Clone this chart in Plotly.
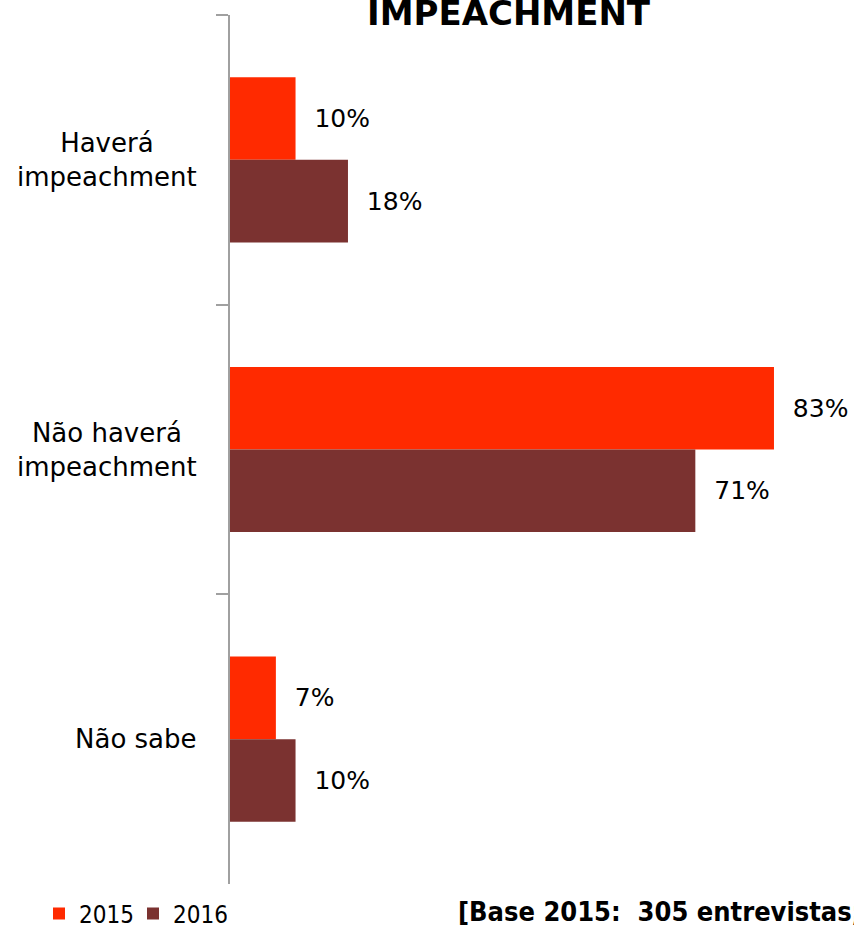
import plotly.graph_objects as go

# Data
categories = ["Haverá<br>impeachment", "Não haverá<br>impeachment", "Não sabe"]
years = ["2015", "2016"]
values_2015 = [10, 83, 7]
values_2016 = [18, 71, 10]
colors = {"2015": "#FF2A00", "2016": "#7B3230"}

W, H = 854, 928
PL, PT, PW, PH = 230, 15, 623, 869  # plot area in px
narrow = "DejaVu Sans Condensed, Liberation Sans, sans-serif"

fig = go.Figure()

for year, vals in zip(years, [values_2015, values_2016]):
    fig.add_trace(go.Bar(
        y=categories, x=vals, name=year, orientation="h",
        marker=dict(color=colors[year], line=dict(width=0)),
        text=["\u00a0\u00a0" + f"{v}%" for v in vals],
        textposition="outside", cliponaxis=False,
        textfont=dict(family="DejaVu Sans", size=25, color="black"),
    ))

fig.update_layout(
    width=W, height=H,
    margin=dict(l=PL, r=W - PL - PW, t=PT, b=H - PT - PH, autoexpand=False),
    barmode="group", bargap=0.43, bargroupgap=0,
    plot_bgcolor="white", paper_bgcolor="white",
    font=dict(family="DejaVu Sans", size=24, color="black"),
    legend=dict(orientation="h", xref="container", yref="container",
                x=39 / W, y=(H - 914) / H, xanchor="left", yanchor="middle",
                font=dict(family=narrow, size=24),
                itemwidth=30, entrywidth=49, traceorder="normal"),
    showlegend=True,
)

fig.update_xaxes(range=[0, PW / 6.554], visible=False)
fig.update_yaxes(autorange="reversed", showline=True, linecolor="#A0A0A0", linewidth=2,
                 ticks="outside", ticklen=12, tickcolor="#A0A0A0", tickwidth=2,
                 tickson="boundaries", showticklabels=False, showgrid=False,
                 automargin=False)

# category labels: block right-aligned, lines centred
for cat in categories:
    fig.add_annotation(text=cat, xref="paper", yref="y", x=-(PL - 199) / PW, y=cat,
                       xanchor="right", yanchor="middle", align="center", showarrow=False,
                       font=dict(family="DejaVu Sans", size=26, color="black"))

# title (top part falls outside the picture)
fig.add_annotation(text="<b>IMPEACHMENT</b>", xref="paper", yref="paper",
                   x=(509 - PL) / PW, y=1 + (PT - 35) / PH, yanchor="bottom", showarrow=False,
                   font=dict(family="DejaVu Sans", size=34, color="black"))

# base note at bottom right
fig.add_annotation(text="<b>[Base 2015:  305 entrevistas; Base 2016:  300 entrevistas]</b>",
                   xref="paper", yref="paper", x=(456 - PL) / PW, y=-(911 - PT - PH) / PH,
                   xanchor="left", yanchor="middle", showarrow=False,
                   font=dict(family=narrow, size=27, color="black"))

fig.write_html("out.html", config={"displayModeBar": False},
               post_script="document.body.style.margin='0px';")
